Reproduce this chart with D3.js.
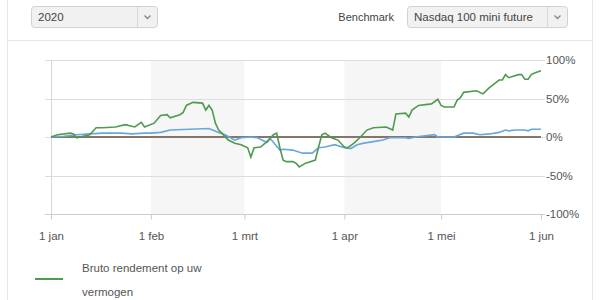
<!DOCTYPE html>
<html>
<head>
<meta charset="utf-8">
<script src="https://cdn.jsdelivr.net/npm/d3@7"></script>
<style>
  html, body { margin: 0; padding: 0; background: #fff; }
  svg { display: block; font-family: "Liberation Sans", Arial, sans-serif; }
</style>
</head>
<body>
<svg id="chart" width="600" height="300"></svg>
<script>
// ---- data ----
const portfolioDates = ["2020-01-01","2020-01-03","2020-01-07","2020-01-08","2020-01-09","2020-01-10","2020-01-13","2020-01-15","2020-01-17","2020-01-21","2020-01-24","2020-01-27","2020-01-29","2020-01-30","2020-02-02","2020-02-04","2020-02-06","2020-02-07","2020-02-10","2020-02-11","2020-02-12","2020-02-14","2020-02-17","2020-02-18","2020-02-19","2020-02-20","2020-02-21","2020-02-22","2020-02-23","2020-02-25","2020-02-27","2020-02-29","2020-03-02","2020-03-03","2020-03-04","2020-03-06","2020-03-08","2020-03-10","2020-03-11","2020-03-12","2020-03-13","2020-03-14","2020-03-16","2020-03-17","2020-03-18","2020-03-20","2020-03-23","2020-03-24","2020-03-25","2020-03-26","2020-03-28","2020-03-30","2020-04-01","2020-04-02","2020-04-04","2020-04-06","2020-04-08","2020-04-10","2020-04-14","2020-04-16","2020-04-17","2020-04-20","2020-04-21","2020-04-22","2020-04-24","2020-04-28","2020-04-30","2020-05-01","2020-05-02","2020-05-05","2020-05-06","2020-05-07","2020-05-08","2020-05-12","2020-05-14","2020-05-16","2020-05-19","2020-05-20","2020-05-21","2020-05-22","2020-05-25","2020-05-26","2020-05-27","2020-05-28","2020-05-29","2020-05-30","2020-06-01"];
const portfolioValues = [0,3,5,4,-1,0,3,12,12,13,16,13,19,13,18,28,29,25,29,32,41,45,44,35,41,35,18,9,5,-4,-8,-10,-14,-26,-14,-13,-6,3,5,-14,-30,-32,-32,-34,-39,-34,-30,-13,3,5,-1,-4,-13,-14,-8,0,9,12,13,9,30,31,26,35,41,43,49,41,39,39,48,51,58,60,56,64,74,74,81,77,81,81,75,75,81,83,86];

const benchmarkDates = ["2020-01-01","2020-01-05","2020-01-09","2020-01-13","2020-01-17","2020-01-23","2020-01-26","2020-01-30","2020-02-01","2020-02-04","2020-02-07","2020-02-13","2020-02-19","2020-02-22","2020-02-24","2020-02-27","2020-02-29","2020-03-03","2020-03-05","2020-03-08","2020-03-09","2020-03-12","2020-03-13","2020-03-16","2020-03-19","2020-03-22","2020-03-24","2020-03-26","2020-03-29","2020-04-01","2020-04-03","2020-04-05","2020-04-07","2020-04-10","2020-04-13","2020-04-15","2020-04-20","2020-04-21","2020-04-23","2020-04-29","2020-04-30","2020-05-05","2020-05-08","2020-05-11","2020-05-13","2020-05-16","2020-05-19","2020-05-21","2020-05-22","2020-05-24","2020-05-27","2020-05-28","2020-05-29","2020-06-01"];
const benchmarkValues = [0,1,3,4,5,5,4,5,5,6,9,10,11,6,3,-4,-1,0,-1,-7,-2,-17,-16,-17,-21,-21,-14,-13,-10,-14,-15,-10,-8,-6,-4,-1,-1,-2,0,3,0,0,5,5,3,4,6,9,8,9,9,8,10,10];

const monthTicks = ["2020-01-01","2020-02-01","2020-03-01","2020-04-01","2020-05-01","2020-06-01"];
const monthLabels = ["1 jan","1 feb","1 mrt","1 apr","1 mei","1 jun"];
const shadedMonths = [["2020-02-01","2020-03-01"],["2020-04-01","2020-05-01"]];
const yTicks = [100, 50, 0, -50, -100];
const yearOption = "2020";
const benchmarkLabel = "Benchmark";
const benchmarkOption = "Nasdaq 100 mini future";
const legendLabel = ["Bruto rendement op uw", "vermogen"];

// ---- setup ----
const parse = d3.utcParse("%Y-%m-%d");
const svg = d3.select("#chart");
const pL = 51, pR = 541, pT = 60, pB = 214;
const x = d3.scaleUtc().domain([parse("2020-01-01"), parse("2020-06-01")]).range([pL, pR]);
const y = d3.scaleLinear().domain([-100, 100]).range([pB, pT]);

const green = "#4f9a4f", blue = "#68a7dc", zeroCol = "#857669";

// panel borders
svg.append("line").attr("x1", 7.5).attr("x2", 7.5).attr("y1", 0).attr("y2", 300).attr("stroke", "#e6e6e6");
svg.append("line").attr("x1", 592.5).attr("x2", 592.5).attr("y1", 0).attr("y2", 300).attr("stroke", "#e6e6e6");
svg.append("line").attr("x1", 7.5).attr("x2", 592.5).attr("y1", 40.5).attr("y2", 40.5).attr("stroke", "#e6e6e6");

// dropdowns
function dropdown(x0, w, divX, text) {
  const g = svg.append("g");
  g.append("rect").attr("x", x0 + 0.5).attr("y", 6.5).attr("width", w).attr("height", 21)
    .attr("rx", 3).attr("fill", "#f1f1f1").attr("stroke", "#d2d2d2");
  g.append("line").attr("x1", divX + 0.5).attr("x2", divX + 0.5).attr("y1", 7).attr("y2", 27).attr("stroke", "#d8d8d8");
  g.append("text").attr("x", x0 + 7).attr("y", 21).attr("font-size", 11.5).attr("fill", "#444").text(text);
  const cx = (divX + x0 + w) / 2 + 0.5;
  g.append("path").attr("d", `M${cx - 3},${15.5} L${cx},${18.5} L${cx + 3},${15.5}`)
    .attr("fill", "none").attr("stroke", "#888").attr("stroke-width", 1.4);
}
dropdown(31, 126, 137, yearOption);
svg.append("text").attr("x", 394).attr("y", 21).attr("text-anchor", "end").attr("font-size", 11)
  .attr("fill", "#444").text(benchmarkLabel);
dropdown(407, 160, 547, benchmarkOption);

// shaded bands
svg.append("g").selectAll("rect").data(shadedMonths).join("rect")
  .attr("x", d => x(parse(d[0])))
  .attr("width", d => x(parse(d[1])) - x(parse(d[0])))
  .attr("y", pT).attr("height", pB - pT)
  .attr("fill", "#f6f6f6");

// gridlines
svg.append("g").selectAll("line").data(yTicks.filter(v => v !== -100)).join("line")
  .attr("x1", pL - 6).attr("x2", pR + 4)
  .attr("y1", d => Math.round(y(d)) + 0.5).attr("y2", d => Math.round(y(d)) + 0.5)
  .attr("stroke", "#dddddd");

// left axis line
svg.append("line").attr("x1", pL + 0.5).attr("x2", pL + 0.5).attr("y1", pT).attr("y2", pB)
  .attr("stroke", "#d8d8d8");

// bottom axis
const xAxis = d3.axisBottom(x)
  .tickValues(monthTicks.map(parse))
  .tickFormat((d, i) => monthLabels[i])
  .tickSize(5).tickPadding(12).tickSizeOuter(0);
const gx = svg.append("g").attr("transform", `translate(0,${pB + 0.5})`).call(xAxis);
gx.select(".domain").attr("stroke", "#cccccc").attr("d", `M${pL - 6},0H${pR + 4}`);
gx.selectAll(".tick line").attr("stroke", "#cccccc");
gx.selectAll(".tick text").attr("font-size", 11.5).attr("fill", "#555").attr("font-family", "Liberation Sans, Arial, sans-serif");

// right axis labels
const yAxis = d3.axisRight(y).tickValues(yTicks).tickFormat(d => d + "%").tickSize(0).tickPadding(5);
const gy = svg.append("g").attr("transform", `translate(${pR},0)`).call(yAxis);
gy.select(".domain").remove();
gy.selectAll(".tick text").attr("font-size", 11.5).attr("fill", "#555").attr("font-family", "Liberation Sans, Arial, sans-serif");

// zero line
svg.append("line").attr("x1", pL).attr("x2", pR).attr("y1", y(0)).attr("y2", y(0))
  .attr("stroke", zeroCol).attr("stroke-width", 2);

// series lines
const lineGen = d3.line().x(d => x(d.date)).y(d => y(d.value));
const bench = benchmarkDates.map((d, i) => ({ date: parse(d), value: benchmarkValues[i] }));
const port = portfolioDates.map((d, i) => ({ date: parse(d), value: portfolioValues[i] }));
svg.append("path").datum(bench).attr("d", lineGen).attr("fill", "none").attr("stroke", blue).attr("stroke-width", 1.6);
svg.append("path").datum(port).attr("d", lineGen).attr("fill", "none").attr("stroke", green).attr("stroke-width", 1.6);

// legend
svg.append("line").attr("x1", 35).attr("x2", 63).attr("y1", 279).attr("y2", 279).attr("stroke", green).attr("stroke-width", 2);
svg.append("text").attr("x", 82).attr("y", 272).attr("font-size", 11.5).attr("fill", "#555").text(legendLabel[0]);
svg.append("text").attr("x", 82).attr("y", 296).attr("font-size", 11.5).attr("fill", "#555").text(legendLabel[1]);
</script>
</body>
</html>
